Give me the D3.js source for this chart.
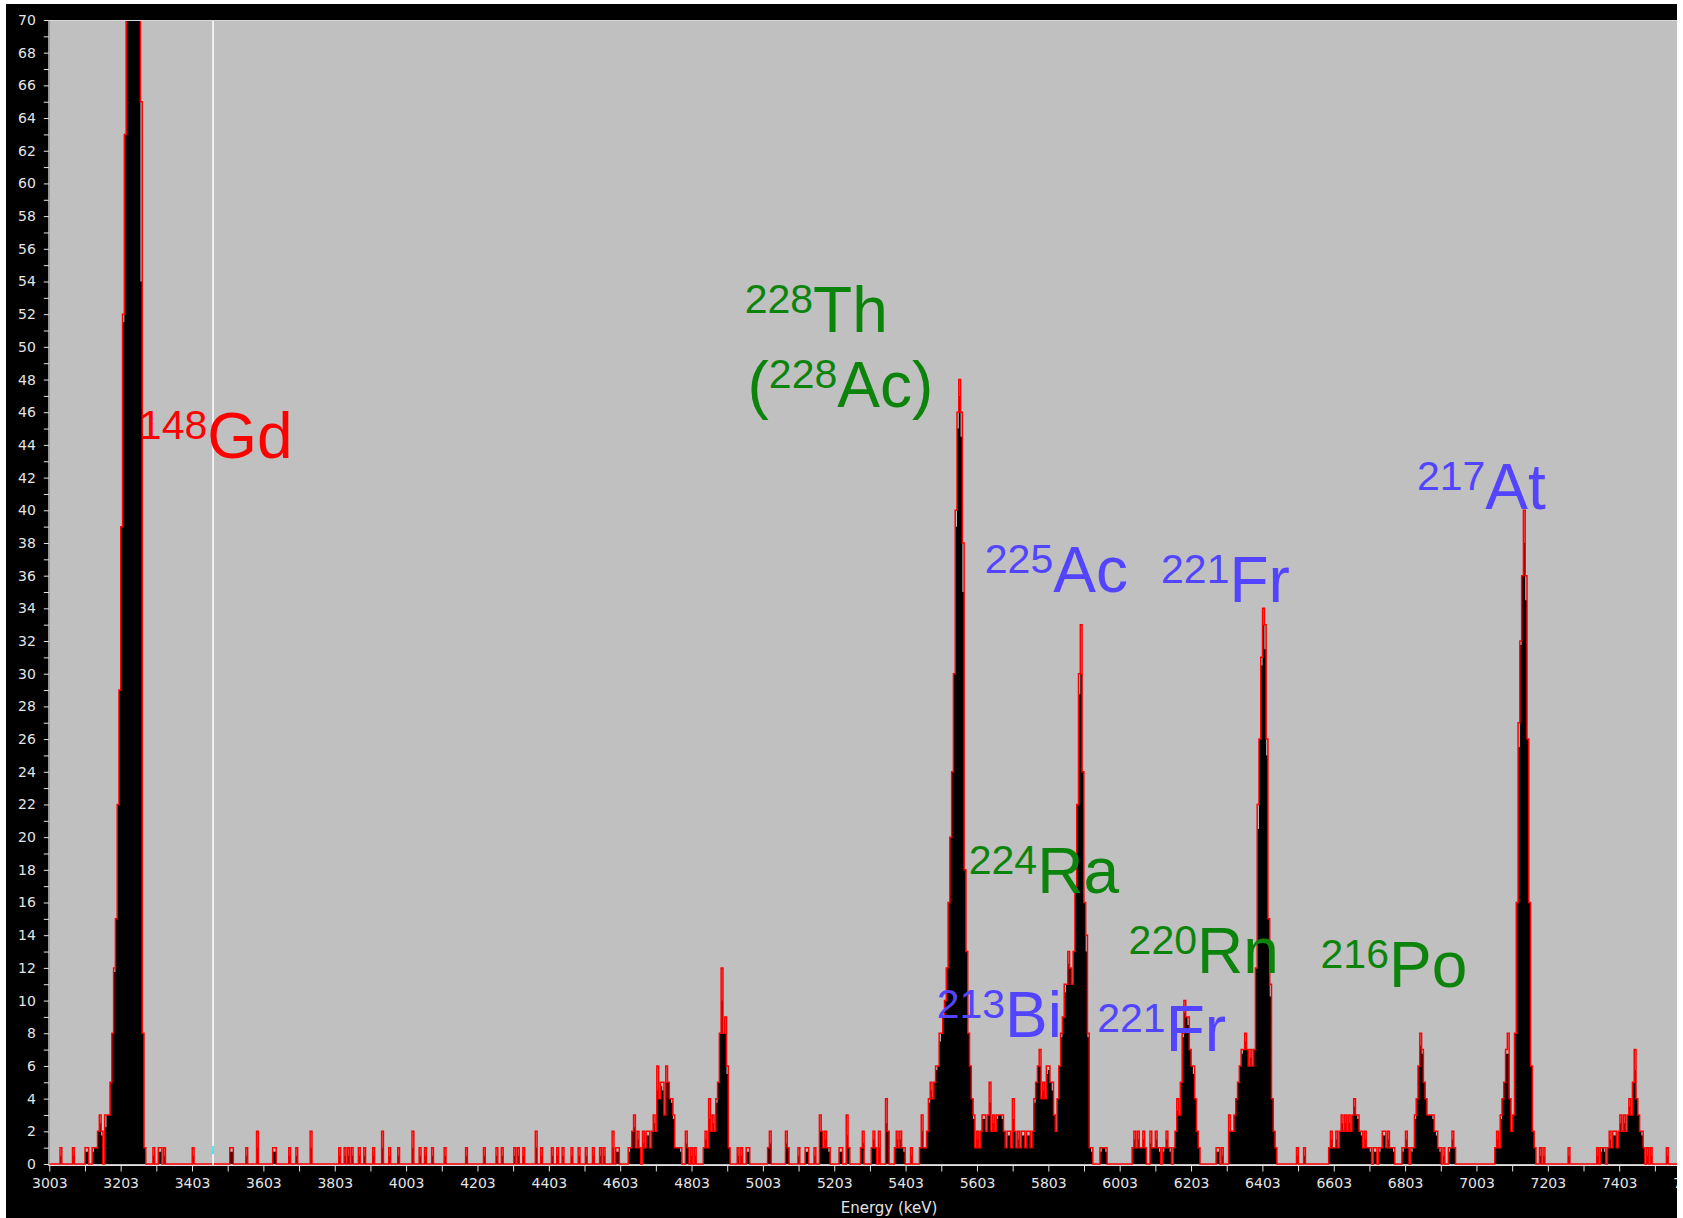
<!DOCTYPE html>
<html>
<head>
<meta charset="utf-8">
<script src="https://cdn.jsdelivr.net/npm/d3@7"></script>
<style>
  html, body { margin: 0; padding: 0; background: #ffffff; }
  svg { display: block; }
</style>
</head>
<body>
<svg id="chart" width="1683" height="1218"></svg>
<script>
// ---- Spectrum calibration: channel k sits at startKeV + keVPerChannel * k ----
const startKeV = 3003;
const keVPerChannel = 5.008;
const channelCount = 911;

// Isolated background counts: [channel, counts]
const backgroundHits = [
  [6,1],[13,1],[58,1],[61,1],[62,1],[64,1],[80,1],[101,1],[102,1],[110,1],[116,2],[125,1],[126,1],
  [134,1],[138,1],[146,2],[162,1],[165,1],[167,1],[169,1],[173,1],[176,1],[181,1],[186,2],[190,1],[195,1],
  [203,2],[207,1],[210,1],[214,1],[221,1],[233,1],[243,1],[250,1],[253,1],[260,1],[262,1],[265,1],
  [272,2],[275,1],[281,1],[284,1],[287,1],[292,1],[296,1],[300,1],[304,1],
  [385,1],[387,1],[390,1],[391,1],[402,1],[403,2],[412,2],[413,1],[419,1],[423,1],[424,1],[428,1],
  [431,3],[432,2],[433,1],[434,2],[435,1],[436,1],[442,1],[443,1],[446,3],[447,1],[454,1],[455,2],
  [460,1],[461,2],[462,1],[464,2],[468,4],[469,2],[473,1],[474,2],[475,1],[476,2],[477,1],[478,1],
  [482,1],[487,1],[488,3],[489,1],
  [606,1],[607,2],[608,1],[609,2],[610,1],[611,1],[612,2],[613,1],
  [653,1],[654,1],[656,1],[698,1],[702,1],
  [809,1],[810,2],[811,1],[834,1],[836,1],[850,1],[905,1]
];

// Dense stretches of the spectrum (counts per channel from a starting channel)
const gd148Region = { from: 20, counts: [
  1,1,0,0,1,1,1,2,3,2, 0,3,3,3,5,8,12,15,22,29, 39,52,63,82,104,121,130,126,112,95, 78,65,8,1
]};
const cluster4700Region = { from: 308, counts: [
  1,0,1,0,0,0,0,2,0,1, 1,0,0,0,0,0,1,1,2,3, 1,2,1,0,2,1,2,2,1,2, 3,2,6,4,5,5,3,6,5,4,
  4,3,1,1,1,1,0,0,2,1, 0,1,0,1,0,0,0,0,1,2, 1,4,2,3,2,4,5,8,12,8, 9,6,1
]};
const th228Region = { from: 490, counts: [
  1,2,4,5,4,5,6,6,8,8, 9,10,12,16,20,24,30,40,46,48, 46,38,18,13,8,6,4,3,1,2,
  1,2,3,3,2,3,5,2,3,2, 3,3,3,3,2,1,2,2,1,4, 2,1,2,1,2,2,1,2,2,1,
  2,4,5,6,7,4,5,4,6,6, 5,5,3,2,4,6,8,9,11,11, 13,12,11,13,17,22,30,33,24,16,
  14,8,1,1,0,0,0,0,1,1,1,1
]};
const fr221LowRegion = { from: 616, counts: [
  2,1,1,2,1,1,0,1,1,2, 1,1,0,1,2,4,3,5,8,10, 9,9,7,6,6,4,2,1
]};
const fr221Region = { from: 660, counts: [
  3,2,2,3,4,5,6,7,7,8, 7,6,7,6,7,12,22,26,31,34, 33,26,15,11,4,2,1
]};
const po216Region = { from: 716, counts: [
  1,2,1,1,2,1,2,3,2,3, 2,3,2,3,4,3,3,2,2,1, 2,1,1,1,0,1,1,0,1,1,
  2,2,1,2,1,1,1,0,0,0, 0,1,1,2,1,0,1,1,3,4, 6,8,7,5,4,3,3,3,3,2,
  2,1,1,0,1,0,0,1,1,2,1
]};
const at217Region = { from: 812, counts: [
  3,4,5,7,8,4,2,3,8,16, 27,32,36,40,36,26,16,6,2,1
]};
const tail7400Region = { from: 866, counts: [
  1,0,1,1,1,0,1,2,1,2, 2,1,2,3,2,3,2,3,4,3, 5,7,4,3,2,2,1,0,1,0,1
]};

// Axis ticks
const energyTicks = d3.range(3003, 7604, 100);
const energyLabelStep = 200;
const countTicks = d3.range(0, 71, 1);
const cursorKeV = 3462;

// Nuclide annotations
const nuclideMass    = ['148', '228', '228', '225', '221', '217', '224', '220', '216', '213', '221'];
const nuclideSymbol  = ['Gd',  'Th',  'Ac',  'Ac',  'Fr',  'At',  'Ra',  'Rn',  'Po',  'Bi',  'Fr'];
const nuclidePrefix  = ['',    '',    '(',   '',    '',    '',    '',    '',    '',    '',    ''];
const nuclideSuffix  = ['',    '',    ')',   '',    '',    '',    '',    '',    '',    '',    ''];
const nuclideKeV     = [3254,  4952,  4960,  5625,  6119,  6836,  5580,  6028,  6566,  5490,  5940];
const nuclideCounts  = [43.2,  50.9,  46.3,  35.0,  34.4,  40.1,  16.6,  11.7,  10.8,  7.8,   6.9];
const nuclideChain   = ['ref', 'th',  'th',  'ac',  'ac',  'ac',  'th',  'th',  'th',  'ac',  'ac'];

// ---- Build the channel table ----
const counts = new Array(channelCount).fill(0);
backgroundHits.forEach(([k, n]) => { counts[k] = n; });
[gd148Region, cluster4700Region, th228Region, fr221LowRegion, fr221Region,
 po216Region, at217Region, tail7400Region].forEach(r => {
  r.counts.forEach((n, i) => { counts[r.from + i] = n; });
});
// Filled body: a light 1-2-1 smoothing, never above the channel's own count
const fillLevel = counts.map((c, i) =>
  Math.min(c, 0.25 * (counts[i - 1] || 0) + 0.5 * c + 0.25 * (counts[i + 1] || 0)));

const steps = d3.range(channelCount + 1).map(k => {
  const j = Math.min(k, channelCount - 1);
  return { e: startKeV + keVPerChannel * k, c: counts[j], f: fillLevel[j] };
});

// ---- Layout ----
const svg = d3.select('#chart');
const plot = { left: 49.3, right: 1677, top: 20, bottom: 1165 };

const x = d3.scaleLinear().domain([3003, 7565]).range([plot.left, plot.right]);
const y = d3.scaleLinear().domain([0, 70]).range([plot.bottom - 1, plot.top]);

// window frame
svg.append('rect').attr('x', 0).attr('y', 0).attr('width', 1683).attr('height', 1218).attr('fill', '#ffffff');
svg.append('rect').attr('x', 6).attr('y', 4).attr('width', plot.right - 6).attr('height', 1218 - 4).attr('fill', '#000000');

// plot background
svg.append('rect')
  .attr('x', plot.left).attr('y', plot.top)
  .attr('width', plot.right - plot.left).attr('height', plot.bottom - plot.top)
  .attr('fill', '#c0c0c0');

svg.append('defs').append('clipPath').attr('id', 'plotClip')
  .append('rect')
  .attr('x', plot.left).attr('y', plot.top)
  .attr('width', plot.right - plot.left).attr('height', plot.bottom - plot.top);

const g = svg.append('g').attr('clip-path', 'url(#plotClip)');

// spectrum body
const area = d3.area()
  .x(d => x(d.e)).y0(y(0)).y1(d => y(d.f))
  .curve(d3.curveStepAfter);
g.append('path').datum(steps).attr('d', area).attr('fill', '#000000');

// spectrum outline
const line = d3.line()
  .x(d => x(d.e)).y(d => y(d.c))
  .curve(d3.curveStepAfter);
g.append('path').datum(steps).attr('d', line)
  .attr('fill', 'none').attr('stroke', '#ff0000').attr('stroke-width', 1.5);

// cursor
g.append('line')
  .attr('x1', x(cursorKeV)).attr('x2', x(cursorKeV))
  .attr('y1', plot.top).attr('y2', plot.bottom)
  .attr('stroke', '#ffffff').attr('stroke-width', 1.5);
g.append('line')
  .attr('x1', x(cursorKeV)).attr('x2', x(cursorKeV))
  .attr('y1', y(1.1)).attr('y2', y(0.6))
  .attr('stroke', '#40e8f0').attr('stroke-width', 2);

// plot border (top & left)
svg.append('path')
  .attr('d', `M${plot.left - 0.5},${plot.bottom}V${plot.top + 0.5}H${plot.right}`)
  .attr('fill', 'none').attr('stroke', '#d8d8d8').attr('stroke-width', 1);

// axes
const axisColor = '#e4e4e4';
const yAxis = d3.axisLeft(y)
  .tickValues(countTicks)
  .tickFormat(d => d % 2 === 0 ? d : '')
  .tickSize(5).tickSizeOuter(0).tickPadding(8);
const yG = svg.append('g').attr('transform', `translate(${plot.left - 0.5},0)`).call(yAxis);

const xAxis = d3.axisBottom(x)
  .tickValues(energyTicks)
  .tickFormat(d => (d - 3003) % energyLabelStep === 0 ? d : '')
  .tickSize(6).tickSizeOuter(0).tickPadding(7);
const xG = svg.append('g').attr('transform', `translate(0,${plot.bottom + 0.5})`).call(xAxis);

[yG, xG].forEach(a => {
  a.select('.domain').remove();
  a.selectAll('.tick line').attr('stroke', axisColor);
  a.selectAll('.tick text')
    .attr('fill', axisColor)
    .style('font-family', '"DejaVu Sans", sans-serif')
    .style('font-size', '14px');
});
svg.append('line')
  .attr('x1', plot.left - 1).attr('x2', plot.right)
  .attr('y1', plot.bottom + 0.5).attr('y2', plot.bottom + 0.5)
  .attr('stroke', axisColor).attr('stroke-width', 1);

svg.append('text')
  .attr('x', 889).attr('y', 1213)
  .attr('text-anchor', 'middle')
  .attr('fill', axisColor)
  .style('font-family', '"DejaVu Sans", sans-serif')
  .style('font-size', '15px')
  .text('Energy (keV)');

// nuclide labels
const chainColor = { ref: '#ff0000', th: '#0c840c', ac: '#5244ff' };
const labelG = svg.append('g')
  .style('font-family', '"Liberation Sans", Arial, sans-serif');
nuclideMass.forEach((mass, i) => {
  const t = labelG.append('text')
    .attr('x', x(nuclideKeV[i]))
    .attr('y', y(nuclideCounts[i]))
    .attr('fill', chainColor[nuclideChain[i]]);
  if (nuclidePrefix[i]) t.append('tspan').attr('font-size', 64).text(nuclidePrefix[i]);
  t.append('tspan').attr('font-size', 41).attr('dy', -19).text(mass);
  t.append('tspan').attr('font-size', 64).attr('dy', 19).text(nuclideSymbol[i] + nuclideSuffix[i]);
});

// window edge to the right of the plot
svg.append('rect').attr('x', plot.right).attr('y', 0).attr('width', 1683 - plot.right).attr('height', 1218).attr('fill', '#ffffff');
</script>
</body>
</html>
